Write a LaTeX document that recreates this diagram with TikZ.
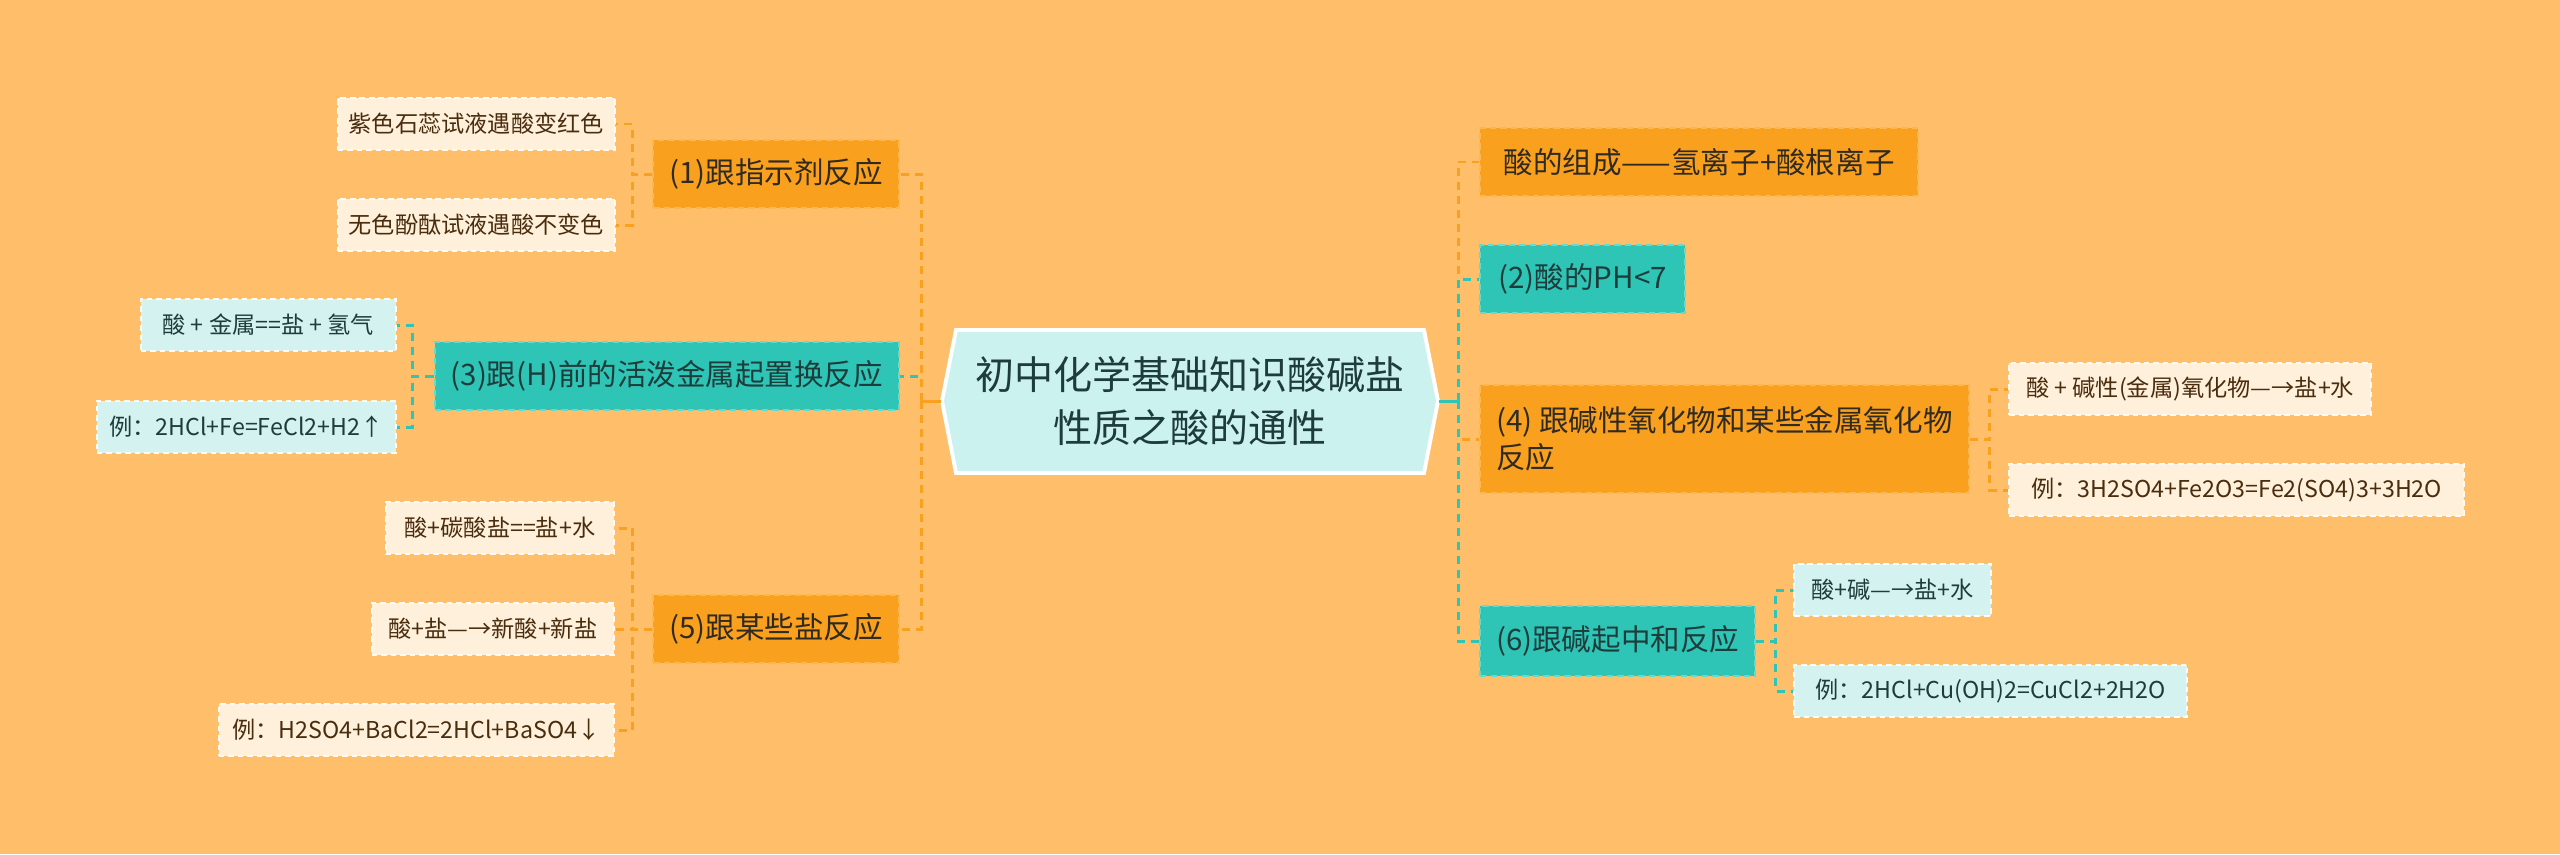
\documentclass[tikz,border=0pt]{standalone}
\usepackage{fontspec}
\setmainfont{Noto Sans CJK SC}

\definecolor{bgorange}{HTML}{FFBE6A}
\definecolor{nodeorange}{HTML}{F9A01F}
\definecolor{edgeorange}{HTML}{FCB850}
\definecolor{nodeteal}{HTML}{2EC4B6}
\definecolor{edgeteal}{HTML}{6AD8CD}
\definecolor{leafcream}{HTML}{FEF0DA}
\definecolor{leafcyan}{HTML}{D4F2EF}
\definecolor{rootfill}{HTML}{CCF2EF}
\definecolor{inkbrown}{HTML}{4A2C0E}
\definecolor{inkteal}{HTML}{1E3C3A}
\definecolor{inkdark}{HTML}{2F2A22}

\tikzset{
  roottext/.style={minimum width=4.96cm, minimum height=1.43cm, inner sep=0pt,
    align=center, text=inkteal, font=\fontsize{11.1}{15}\selectfont},
  branch/.style={minimum height=0.68cm, inner xsep=0.16cm, inner ysep=0pt,
    line width=0.6pt, dash pattern=on 1.8pt off 1.2pt,
    font=\fontsize{8.4}{10.5}\selectfont},
  orangebranch/.style={branch, fill=nodeorange, draw=edgeorange, text=inkdark},
  tealbranch/.style={branch, fill=nodeteal, draw=edgeteal, text=inkteal},
  leaf/.style={minimum height=0.52cm, inner xsep=0.11cm, inner ysep=0pt,
    line width=0.6pt, dash pattern=on 1.6pt off 1.1pt, draw=white!70!leafcream,
    font=\fontsize{6.6}{8}\selectfont},
  creamleaf/.style={leaf, fill=leafcream, text=inkbrown},
  cyanleaf/.style={leaf, fill=leafcyan, text=inkteal},
  orangelink/.style={draw=nodeorange, line width=0.85pt, dash pattern=on 2.3pt off 1.7pt},
  teallink/.style={draw=nodeteal, line width=0.85pt, dash pattern=on 2.3pt off 1.7pt}
}

\begin{document}
\begin{tikzpicture}[x=0.01cm,y=-0.01cm]
\fill[bgorange] (0,0) rectangle (2560,854);

% centre
\filldraw[fill=rootfill, draw=white, line width=1.1pt]
  (942,401)--(956,330)--(1424,330)--(1438,401)--(1424,473)--(956,473)--cycle;
\node[roottext] (root) at (1190,401) {初中化学基础知识酸碱盐\\性质之酸的通性};

% left branches
\node[orangebranch, anchor=east, minimum width=2.43cm] (zhishiji) at (900,174) {(1)跟指示剂反应};
\node[tealbranch, anchor=east, minimum width=4.63cm] (jinshu) at (900,376) {(3)跟(H)前的活泼金属起置换反应};
\node[orangebranch, anchor=east, minimum width=2.43cm] (yan) at (900,629) {(5)跟某些盐反应};

% right branches
\node[orangebranch, anchor=west, minimum width=4.38cm] (zucheng) at (1479,162) {酸的组成——氢离子+酸根离子};
\node[tealbranch, anchor=west, minimum width=2.05cm] (ph) at (1479,279) {(2)酸的PH<7};
\node[orangebranch, anchor=west, minimum width=4.87cm, minimum height=1.08cm, align=left] (yanghuawu) at (1479,439) {(4) 跟碱性氧化物和某些金属氧化物\\反应};
\node[tealbranch, anchor=west, minimum width=2.73cm, minimum height=0.70cm] (zhonghe) at (1479,641) {(6)跟碱起中和反应};

% left leaves
\node[creamleaf, anchor=east, minimum width=2.76cm] (shirui) at (616,124) {紫色石蕊试液遇酸变红色};
\node[creamleaf, anchor=east, minimum width=2.76cm] (fentai) at (616,225) {无色酚酞试液遇酸不变色};
\node[cyanleaf, anchor=east, minimum width=2.55cm] (qingqi) at (397,325) {酸 + 金属==盐 + 氢气};
\node[cyanleaf, anchor=east, minimum width=2.99cm] (tie) at (397,427) {例：2HCl+Fe=FeCl2+H2↑};
\node[creamleaf, anchor=east, minimum width=2.28cm] (tansuan) at (615,528) {酸+碳酸盐==盐+水};
\node[creamleaf, anchor=east, minimum width=2.42cm] (xinsuan) at (615,629) {酸+盐—→新酸+新盐};
\node[creamleaf, anchor=east, minimum width=3.95cm] (bei) at (615,730) {例：H2SO4+BaCl2=2HCl+BaSO4↓};

% right leaves
\node[creamleaf, anchor=west, minimum width=3.62cm] (jianxing) at (2008,389) {酸 + 碱性(金属)氧化物—→盐+水};
\node[creamleaf, anchor=west, minimum width=4.55cm] (tiexiu) at (2008,490) {例：3H2SO4+Fe2O3=Fe2(SO4)3+3H2O};
\node[cyanleaf, anchor=west, minimum width=1.97cm] (jian) at (1793,590) {酸+碱—→盐+水};
\node[cyanleaf, anchor=west, minimum width=3.93cm] (tong) at (1793,691) {例：2HCl+Cu(OH)2=CuCl2+2H2O};

% trunks
\coordinate (ltrunk) at (921,401);
\coordinate (rtrunk) at (1458,401);
\draw[teallink] (ltrunk) |- (jinshu.east);
\draw[orangelink] (ltrunk) |- (zhishiji.east);
\draw[orangelink] (ltrunk) |- (yan.east);
\draw[orangelink, solid] (root.west) -- (ltrunk);

\draw[orangelink] (rtrunk) |- (zucheng.west);
\draw[orangelink] (rtrunk) |- (yanghuawu.west);
\draw[teallink] (rtrunk) |- (ph.west);
\draw[teallink] (rtrunk) |- (zhonghe.west);
\draw[teallink, solid] (root.east) -- (rtrunk);

% leaf links
\draw[orangelink] (zhishiji.west) -- ++(-20,0) |- (shirui.east);
\draw[orangelink] (zhishiji.west) -- ++(-20,0) |- (fentai.east);
\draw[teallink] (jinshu.west) -- ++(-21,0) |- (qingqi.east);
\draw[teallink] (jinshu.west) -- ++(-21,0) |- (tie.east);
\draw[orangelink] (yan.west) -- ++(-20,0) |- (tansuan.east);
\draw[orangelink] (yan.west) -- ++(-20,0) |- (xinsuan.east);
\draw[orangelink] (yan.west) -- ++(-20,0) |- (bei.east);
\draw[orangelink] (yanghuawu.east) -- ++(20,0) |- (jianxing.west);
\draw[orangelink] (yanghuawu.east) -- ++(20,0) |- (tiexiu.west);
\draw[teallink] (zhonghe.east) -- ++(19,0) |- (jian.west);
\draw[teallink] (zhonghe.east) -- ++(19,0) |- (tong.west);
\end{tikzpicture}
\end{document}
